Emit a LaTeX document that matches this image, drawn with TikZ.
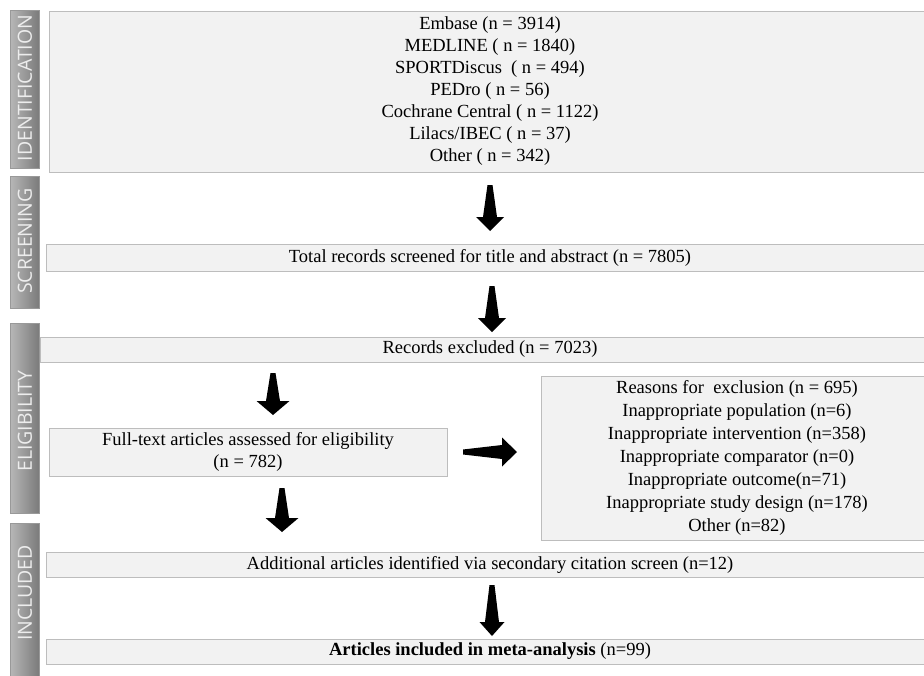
\documentclass[tikz,border=0pt]{standalone}
\usepackage{fontspec}
\setmainfont{Liberation Serif}
\newfontfamily\barfont{Open Sans}
\usetikzlibrary{calc,shadows}
\definecolor{boxfill}{HTML}{F2F2F2}
\definecolor{boxline}{HTML}{BDBDBD}
\definecolor{bartext}{HTML}{EDEDED}
\tikzset{
  box/.style={draw=boxline, line width=0.9pt, fill=boxfill, inner sep=0pt, align=center,
    font=\fontsize{18.5}{22}\selectfont,
    drop shadow={shadow xshift=0.8pt, shadow yshift=-1.2pt, fill=black!45, opacity=1}},
  bartxt/.style={rotate=90, text=bartext, font=\barfont\fontsize{19.5}{22}\selectfont, inner sep=0pt},
  barshade/.style={left color=black!28, right color=black!52, draw=black!40, line width=0.6pt},
  arrowfill/.style={fill=black}
}
\newcommand\downarr[3]{%
  \fill[arrowfill] ($(#1)+(-2.5,0)$) -- ($(#2)+(-7,-14)$) -- ($(#2)+(-#3,-14)$) -- (#2)
    -- ($(#2)+(#3,-14)$) -- ($(#2)+(7,-14)$) -- ($(#1)+(2.5,0)$) -- cycle;}
\newcommand\rightarr[3]{%
  \fill[arrowfill] ($(#1)+(0,-2.5)$) -- ($(#2)+(-15,-7)$) -- ($(#2)+(-15,-#3)$) -- (#2)
    -- ($(#2)+(-15,#3)$) -- ($(#2)+(-15,7)$) -- ($(#1)+(0,2.5)$) -- cycle;}
\begin{document}
\begin{tikzpicture}[x=1pt,y=-1pt]
\clip (0,0) rectangle (924,675);
\fill[white] (0,0) rectangle (924,675);
% side bars
\shade[barshade] (10,10) rectangle (39,168);
\shade[barshade] (10,176) rectangle (39,308);
\shade[barshade] (10,323) rectangle (39,513);
\shade[barshade] (10,523) rectangle (39,690);
\node[bartxt] (tid) at (25,88) {IDENTIFICATION};
\node[bartxt] (tsc) at (25,241) {SCREENING};
\node[bartxt] (tel) at (25,421) {ELIGIBILITY};
\node[bartxt] (tin) at (25,593) {INCLUDED};
% boxes
\node[box, minimum width=882pt, minimum height=161pt] (ident) at (490,91.5)
  {Embase (n = 3914)\\ MEDLINE ( n = 1840)\\ SPORTDiscus~ ( n = 494)\\ PEDro ( n = 56)\\
   Cochrane Central ( n = 1122)\\ Lilacs/IBEC ( n = 37)\\ Other ( n = 342)};
\node[box, minimum width=888pt, minimum height=27pt] (screen) at (490,257.5)
  {Total records screened for title and abstract (n = 7805)};
\node[box, minimum width=900pt, minimum height=25pt] (excl) at (490,349.5)
  {Records excluded (n = 7023)};
\node[box, minimum width=398pt, minimum height=48pt] (full) at (248,452)
  {Full-text articles assessed for eligibility\\ (n = 782)};
\node[box, minimum width=392pt, minimum height=164pt, font=\fontsize{18.5}{23}\selectfont] (reasons) at (737,458)
  {Reasons for~ exclusion (n = 695)\\ Inappropriate population (n=6)\\ Inappropriate intervention (n=358)\\
   Inappropriate comparator (n=0)\\ Inappropriate outcome(n=71)\\ Inappropriate study design (n=178)\\ Other (n=82)};
\node[box, minimum width=888pt, minimum height=25pt] (addl) at (490,564.5)
  {Additional articles identified via secondary citation screen (n=12)};
\node[box, minimum width=888pt, minimum height=25pt] (final) at (490,651.5)
  {\textbf{Articles included in meta-analysis} (n=99)};
% arrows
\coordinate (a1s) at (490,185); \coordinate (a1e) at (490,231);
\coordinate (a2s) at (492,286); \coordinate (a2e) at (492,332);
\coordinate (a3s) at (273,373); \coordinate (a3e) at (273,415);
\coordinate (a4s) at (282,488); \coordinate (a4e) at (282,532);
\coordinate (ars) at (463,452); \coordinate (are) at (517,452);
\coordinate (a5s) at (492,585); \coordinate (a5e) at (492,636);
\downarr{a1s}{a1e}{14}
\downarr{a2s}{a2e}{14}
\downarr{a3s}{a3e}{16.5}
\downarr{a4s}{a4e}{16.5}
\rightarr{ars}{are}{14.5}
\downarr{a5s}{a5e}{12.5}
\end{tikzpicture}
\end{document}
